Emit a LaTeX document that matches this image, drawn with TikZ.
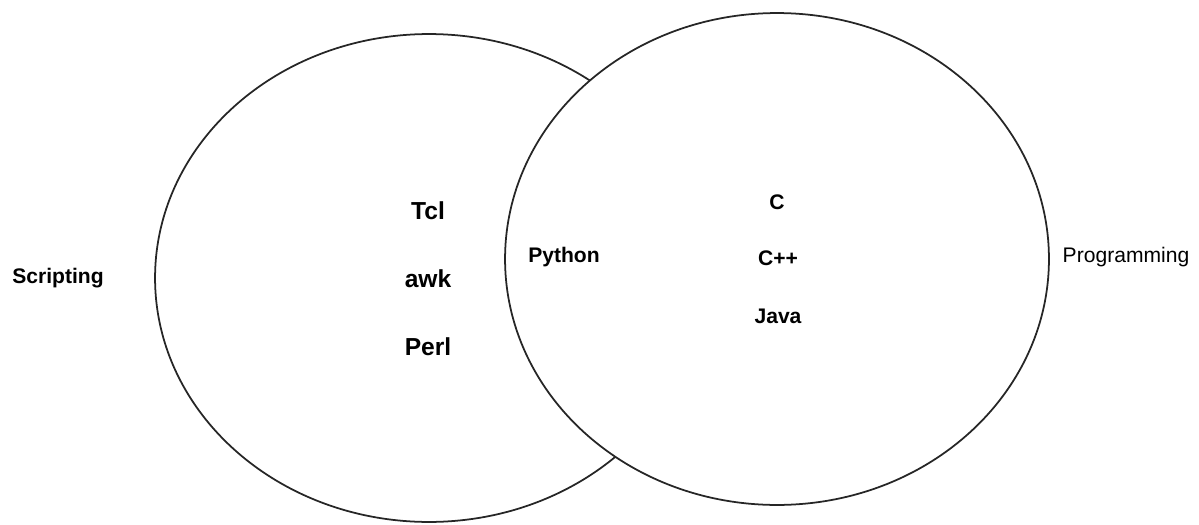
\documentclass[tikz,border=0pt]{standalone}
\usepackage{fontspec}
\setmainfont{Liberation Sans}
\usetikzlibrary{shapes.geometric,positioning}

\begin{document}
\begin{tikzpicture}[
    x=0.02cm, y=-0.02cm,
    set/.style={ellipse, draw=black!85, line width=1pt, inner sep=0pt},
    item/.style={font=\bfseries\fontsize{12}{14}\selectfont},
    bigitem/.style={font=\bfseries\fontsize{14}{16}\selectfont},
    title/.style={font=\fontsize{12}{14}\selectfont}
]
\useasboundingbox (0,0) rectangle (1199,524);

% Sets
\node[set, minimum width=10.96cm, minimum height=9.76cm] (scriptset) at (429,278) {};
\node[set, fill=white, minimum width=10.88cm, minimum height=9.84cm] (progset) at (777,259) {};

% Set labels
\node[item] (scripting) at (58,278) {Scripting};
\node[title] (programming) at (1126,257) {Programming};

% Scripting only
\node[bigitem] (tcl) at (428,211) {Tcl};
\node[bigitem] (awk) at (428,279) {awk};
\node[bigitem] (perl) at (428,347) {Perl};

% Both
\node[item] (python) at (564,257) {Python};

% Programming only
\node[item] (c) at (777,202) {C};
\node[item] (cpp) at (778,258) {C++};
\node[item] (java) at (778,316) {Java};

\end{tikzpicture}
\end{document}
